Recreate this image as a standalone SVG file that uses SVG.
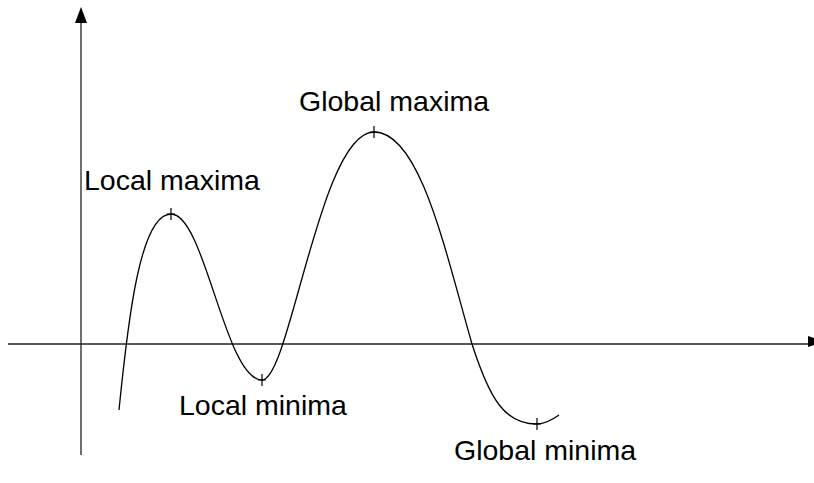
<svg xmlns="http://www.w3.org/2000/svg" width="814" height="483" viewBox="0 0 814 483">
<style>
.ax{stroke:#222;stroke-width:1.3;fill:none}
.cv{stroke:#000;stroke-width:1.3;fill:none}
.tk{stroke:#000;stroke-width:1.2}
.lb{font-family:"Liberation Sans",Arial,sans-serif;font-size:28.5px;fill:#000}
</style>
<rect width="814" height="483" fill="#fff"/>
<g id="axes">
<line class="ax" x1="81" y1="455" x2="81" y2="20"/>
<polygon points="81,7 75,23 87,23" fill="#000"/>
<line class="ax" x1="8" y1="344" x2="810" y2="344"/>
<polygon points="824,341.5 808,336 808,347" fill="#000"/>
</g>
<g id="curve">
<path class="cv" d="M119,410 C128,320 140,214 171,214 C205,214 225,380 262,380 C290,380 320,132 374,132 C420,132 445,250 472,344 C490,400 505,424 537,424 C545,424 552,420 559,415"/>
</g>
<g id="ticks">
<path class="tk" d="M171,208 V220 M167,214 H175"/>
<path class="tk" d="M262,374 V386 M258,380 H266"/>
<path class="tk" d="M374,126 V138 M370,132 H378"/>
<path class="tk" d="M537,418 V430 M533,424 H541"/>
</g>
<g id="labels">
<text class="lb" x="84" y="190">Local maxima</text>
<text class="lb" x="299" y="111">Global maxima</text>
<text class="lb" x="179" y="415">Local minima</text>
<text class="lb" x="454" y="460">Global minima</text>
</g>
</svg>
